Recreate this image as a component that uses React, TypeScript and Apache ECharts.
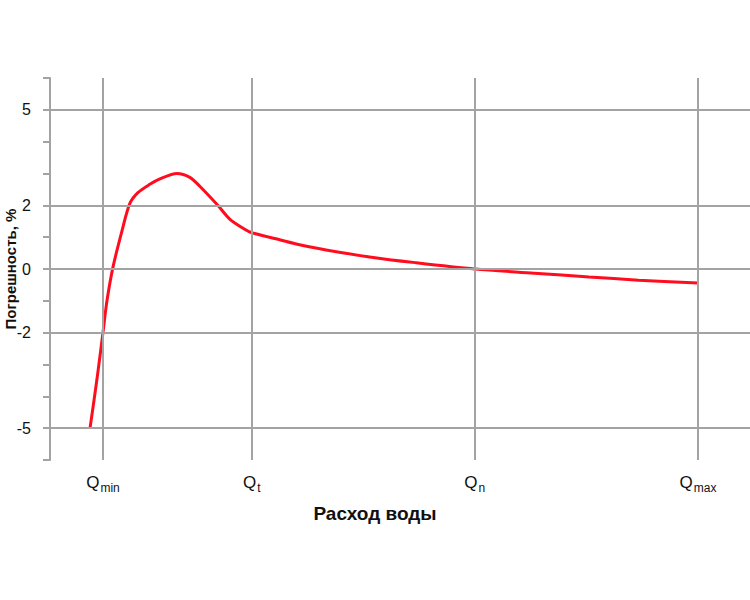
import React, { useEffect, useRef } from 'react';
import * as echarts from 'echarts';

// расход воды (условные единицы: Qmin = 1, Qt = 2, Qn = 3.5, Qmax = 5)
const flowValues = [0.913, 0.96, 1.0, 1.027, 1.067, 1.128, 1.181, 1.235, 1.315, 1.383, 1.497, 1.584, 1.651, 1.772, 1.852, 1.953, 2.0, 2.188, 2.322, 2.5, 2.792, 3.1, 3.5, 3.9, 4.268, 4.6, 5.0];
// погрешность, %
const errorValues = [-5, -3.45, -2.0, -1.0, 0.05, 1.2, 2.06, 2.4, 2.66, 2.83, 3.0, 2.88, 2.6, 2.0, 1.57, 1.25, 1.14, 0.92, 0.76, 0.6, 0.38, 0.2, 0, -0.13, -0.25, -0.35, -0.44];

const flowTicks = [1, 2, 3.5, 5];
const flowSubs = ['min', 't', 'n', 'max'];
const errorTicks = [5, 2, 0, -2, -5];

const GRID = '#a3a3a3';

const App = () => {
  const chartRef = useRef<HTMLDivElement>(null);

  useEffect(() => {
    if (!chartRef.current) return;
    const chart = echarts.init(chartRef.current, null, { renderer: 'svg' });

    chart.setOption({
      animation: false,
      textStyle: { fontFamily: 'Liberation Sans, Arial, sans-serif' },
      grid: { left: 50, right: 0, top: 78, bottom: 140, outerBoundsMode: 'none', containLabel: false },
      xAxis: {
        type: 'value',
        min: 0.644,
        max: 5.35,
        name: 'Расход воды',
        nameLocation: 'middle',
        nameGap: 44,
        nameMoveOverlap: false,
        nameTextStyle: { fontSize: 19, fontWeight: 'bold', color: '#111', padding: [0, 50, 0, 0] },
        axisLine: { show: true, lineStyle: { color: GRID, width: 2 } },
        axisTick: { show: true, customValues: flowTicks, length: 5, lineStyle: { color: GRID, width: 2 } },
        splitLine: { show: false },
        axisLabel: {
          customValues: flowTicks,
          margin: 14,
          formatter: (v: number) => {
            const i = flowTicks.indexOf(v);
            return i < 0 ? '' : `{q|Q}{s|${flowSubs[i]}}`;
          },
          rich: {
            q: { fontSize: 17, color: '#111', verticalAlign: 'top', lineHeight: 20 },
            s: { fontSize: 12, color: '#111', verticalAlign: 'bottom', lineHeight: 20, padding: [9, 0, 0, 1] },
          },
        },
      },
      yAxis: {
        type: 'value',
        min: -6,
        max: 6,
        interval: 1,
        name: 'Погрешность, %',
        nameLocation: 'middle',
        nameGap: 32,
        nameMoveOverlap: false,
        nameRotate: 90,
        nameTextStyle: { fontSize: 15, fontWeight: 'bold', color: '#111' },
        axisLine: { show: true, lineStyle: { color: GRID, width: 2 } },
        axisTick: { show: true, length: 7, lineStyle: { color: GRID, width: 2 } },
        splitLine: { show: false },
        axisLabel: {
          margin: 19,
          fontSize: 16,
          color: '#111',
          formatter: (v: number) => (errorTicks.includes(v) ? String(v) : ''),
        },
      },
      series: [
        {
          type: 'line',
          data: flowValues.map((x, i) => [x, errorValues[i]]),
          smooth: 0.3,
          showSymbol: false,
          lineStyle: { color: '#ff0d1f', width: 3 },
          z: 3,
          markLine: {
            silent: true,
            symbol: 'none',
            label: { show: false },
            lineStyle: { color: GRID, width: 2, type: 'solid' },
            data: [
              ...flowTicks.map((x) => ({ xAxis: x })),
              ...errorTicks.map((y) => ({ yAxis: y })),
            ],
          },
        },
      ],
    });

    return () => {
      chart.dispose();
    };
  }, []);

  return (
    <div
      ref={chartRef}
      style={{ position: 'absolute', left: 0, top: 0, width: '750px', height: '600px', background: '#fff' }}
    ></div>
  );
};

export default App;
